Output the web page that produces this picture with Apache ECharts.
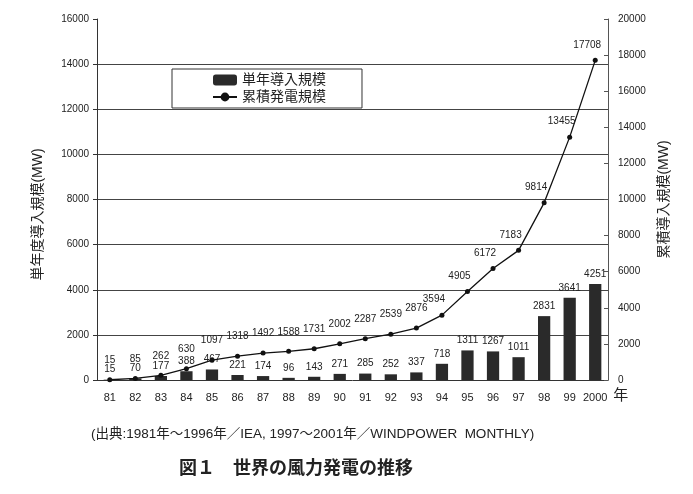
<!DOCTYPE html>
<html><head><meta charset="utf-8">
<script src="https://cdn.jsdelivr.net/npm/echarts@6/dist/echarts.min.js"></script>
<style>html,body{margin:0;padding:0;background:#fff}#c{width:693px;height:494px}</style>
</head><body><div id="c"></div>
<script>
const categories = ['81','82','83','84','85','86','87','88','89','90','91','92','93','94','95','96','97','98','99','2000'];
const annual = [15,70,177,388,467,221,174,96,143,271,285,252,337,718,1311,1267,1011,2831,3641,4251];
const cumulative = [15,85,262,630,1097,1318,1492,1588,1731,2002,2287,2539,2876,3594,4905,6172,7183,9814,13455,17708];
const FONT = '"Liberation Sans", "Noto Sans CJK JP", sans-serif';
const plain = v => String(v);
const chart = echarts.init(document.getElementById('c'));
chart.setOption({
  animation: false,
  backgroundColor: '#fff',
  textStyle: { fontFamily: FONT, color: '#222' },
  title: [
    { text: '(出典:1981年〜1996年／IEA, 1997〜2001年／WINDPOWER  MONTHLY)', left: 86, top: 423,
      textStyle: { fontSize: 13.5, fontWeight: 'normal', color: '#222', fontFamily: FONT } },
    { text: '図１　世界の風力発電の推移', left: 174, top: 455,
      textStyle: { fontSize: 18, fontWeight: 'bold', color: '#222', fontFamily: FONT } }
  ],
  legend: {
    orient: 'vertical', left: 172, top: 69, width: 190,
    padding: [4, 36, 4, 40], itemGap: 3, itemWidth: 24, itemHeight: 11,
    borderColor: '#333', borderWidth: 1, backgroundColor: '#fff',
    textStyle: { fontSize: 14, color: '#222', fontFamily: FONT },
    data: ['単年導入規模', '累積発電規模']
  },
  grid: { left: 97, right: 85, top: 19, bottom: 114 },
  xAxis: {
    type: 'category', data: categories, name: '年', nameGap: 4,
    nameTextStyle: { fontSize: 15, color: '#222', verticalAlign: 'top', padding: [8, 0, 0, 0] },
    axisLine: { lineStyle: { color: '#333' } },
    axisTick: { lineStyle: { color: '#555' }, length: 3 },
    axisLabel: { fontSize: 11, color: '#222', margin: 12, interval: 0 }
  },
  yAxis: [
    { type: 'value', min: 0, max: 16000, interval: 2000, position: 'left',
      name: '単年度導入規模(MW)', nameLocation: 'middle', nameGap: 52, nameRotate: 90,
      nameTextStyle: { fontSize: 14, color: '#222', padding: [0, 30, 0, 0] },
      axisLine: { show: true, lineStyle: { color: '#333' } },
      axisTick: { show: true, length: 4, lineStyle: { color: '#333' } },
      axisLabel: { fontSize: 10, color: '#222', formatter: plain },
      splitLine: { show: true, showMinLine: false, showMaxLine: false, lineStyle: { color: '#444', width: 1 } } },
    { type: 'value', min: 0, max: 20000, interval: 2000, position: 'right',
      name: '累積導入規模(MW)', nameLocation: 'middle', nameGap: 46, nameRotate: 90,
      nameTextStyle: { fontSize: 14, color: '#222' },
      axisLine: { show: true, lineStyle: { color: '#555' } },
      axisTick: { show: true, inside: true, length: 4, lineStyle: { color: '#555' } },
      axisLabel: { fontSize: 10, color: '#222', margin: 10, formatter: plain },
      splitLine: { show: false } }
  ],
  series: [
    { name: '単年導入規模', type: 'bar', yAxisIndex: 0, data: annual, barWidth: '48%',
      itemStyle: { color: '#2a2a2a' },
      label: { show: true, position: 'top', distance: 5, fontSize: 10, color: '#222' } },
    { name: '累積発電規模', type: 'line', yAxisIndex: 1,
      data: cumulative.map((v, i) => ({ value: v,
        label: i >= 13 ? { offset: [-8, 0], distance: 8 } : { distance: 12 } })),
      symbol: 'circle', symbolSize: 5,
      lineStyle: { color: '#111', width: 1.3 }, itemStyle: { color: '#111' },
      label: { show: true, position: 'top', fontSize: 10, color: '#222' } }
  ]
});
</script></body></html>
